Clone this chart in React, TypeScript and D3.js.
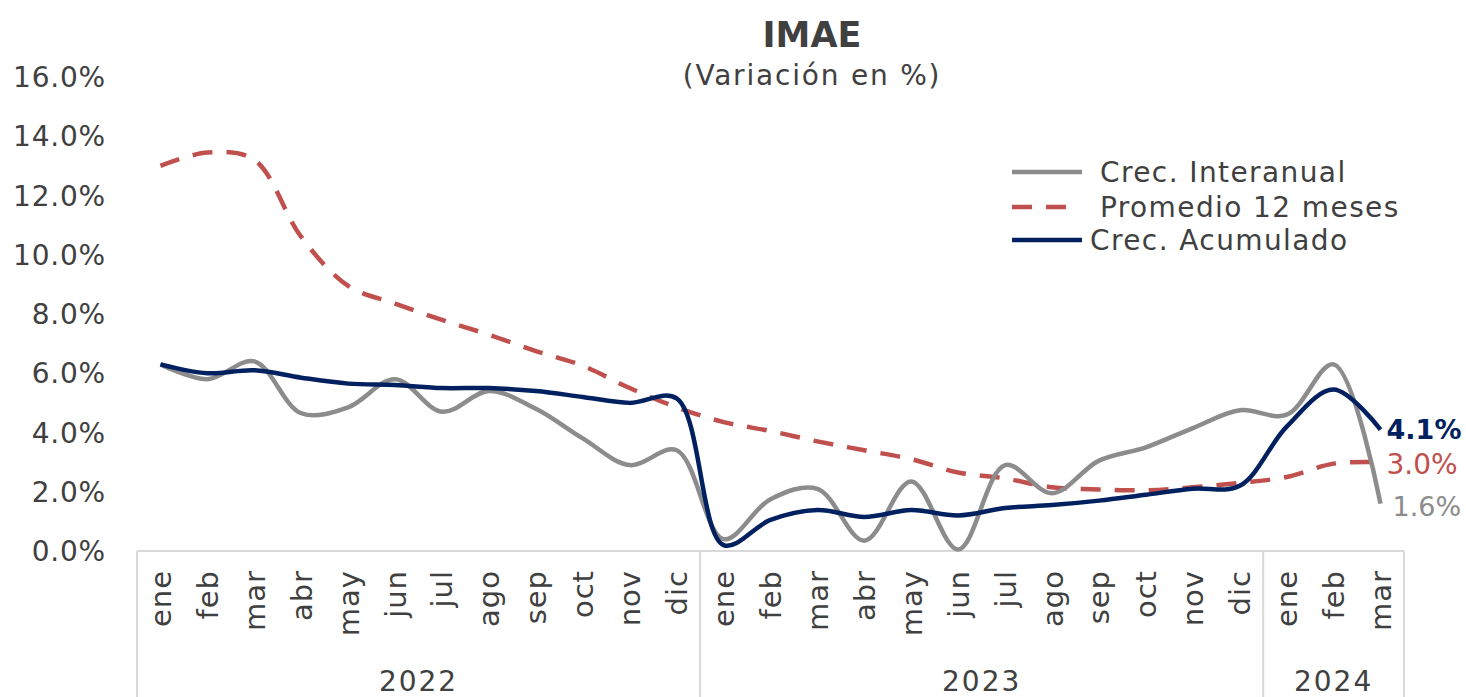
import React from 'react'
import * as d3 from 'd3'

const months = ['ene','feb','mar','abr','may','jun','jul','ago','sep','oct','nov','dic',
  'ene','feb','mar','abr','may','jun','jul','ago','sep','oct','nov','dic',
  'ene','feb','mar']
const years = [
  { label: '2022', count: 12 },
  { label: '2023', count: 12 },
  { label: '2024', count: 3 },
]
const interanual = [6.3,5.8,6.4,4.65,4.85,5.8,4.7,5.4,4.8,3.8,2.9,3.4,
  0.4,1.75,2.1,0.35,2.35,0.05,2.9,1.95,3.05,3.5,4.15,4.75,
  4.6,6.3,1.6]
const promedio = [13.0,13.45,13.2,10.6,8.95,8.35,7.8,7.3,6.75,6.25,5.5,4.85,
  4.35,4.05,3.7,3.4,3.1,2.65,2.45,2.15,2.08,2.05,2.15,2.3,
  2.5,2.95,3.0]
const acumulado = [6.3,6.0,6.1,5.85,5.65,5.6,5.5,5.5,5.4,5.2,5.0,5.15,
  0.2,1.05,1.38,1.15,1.38,1.2,1.45,1.55,1.7,1.9,2.1,2.2,
  4.2,5.45,4.1]
const yTicks = [0,2,4,6,8,10,12,14,16]

const W = 1466
const H = 697
const FONT = '"DejaVu Sans", sans-serif'
const TXT = '#404040'
const GREY = '#8c8c8c'
const RED = '#c0504d'
const BLUE = '#002060'
const AXIS = '#d9d9d9'

export default function App() {
  const x = d3.scaleBand<number>().domain(months.map((_, i) => i)).range([137, 1404])
  const bw = x.bandwidth()
  const cx = (i: number) => (x(i) ?? 0) + bw / 2
  const y = d3.scaleLinear().domain([0, 16]).range([551, 77])

  const line = d3.line<number>()
    .x((_, i) => cx(i))
    .y(d => y(d))
    .curve(d3.curveCatmullRom.alpha(0.5))

  // group boundaries
  let acc = 0
  const groups = years.map(g => {
    const start = acc
    acc += g.count
    return { ...g, x0: x(start) ?? 0, x1: (x(acc - 1) ?? 0) + bw }
  })
  const last = months.length - 1

  return (
    <svg width={W} height={H} style={{ position: 'absolute', left: 0, top: 0, background: '#fff' }}
      fontFamily={FONT}>
      {/* title */}
      <text x={812} y={47} textAnchor="middle" fontSize={35} fontWeight="bold" fill={TXT}>IMAE</text>
      <text x={812} y={85} textAnchor="middle" fontSize={28} letterSpacing={1.8} fill={TXT}>(Variación en %)</text>

      {/* y axis labels */}
      {yTicks.map(t => (
        <text key={t} x={106} y={y(t)} dy="0.36em" textAnchor="end" fontSize={28} letterSpacing={0.8} fill={TXT}>
          {t.toFixed(1) + '%'}
        </text>
      ))}

      {/* category axis */}
      <line x1={137} x2={1404} y1={y(0)} y2={y(0)} stroke={AXIS} strokeWidth={2} />
      {groups.map((g, i) => (
        <g key={g.label}>
          {i === 0 && <line x1={g.x0} x2={g.x0} y1={y(0)} y2={H} stroke={AXIS} strokeWidth={2} />}
          <line x1={g.x1} x2={g.x1} y1={y(0)} y2={H} stroke={AXIS} strokeWidth={2} />
          <text x={(g.x0 + g.x1) / 2} y={691} textAnchor="middle" fontSize={28} letterSpacing={2} fill={TXT}>{g.label}</text>
        </g>
      ))}
      {months.map((m, i) => (
        <text key={i} transform={`translate(${cx(i)},570) rotate(-90)`} dy="0.36em"
          textAnchor="end" fontSize={29} letterSpacing={1} fill={TXT}>{m}</text>
      ))}

      {/* series */}
      <path d={line(promedio) ?? ''} fill="none" stroke={RED} strokeWidth={4.5}
        strokeDasharray="20 14" />
      <path d={line(interanual) ?? ''} fill="none" stroke={GREY} strokeWidth={4.5} />
      <path d={line(acumulado) ?? ''} fill="none" stroke={BLUE} strokeWidth={4.5} />

      {/* end labels */}
      <text x={cx(last) + 6} y={y(acumulado[last])} dy="0.36em" fontSize={27} fontWeight="bold" fill={BLUE}>
        {acumulado[last].toFixed(1)}%</text>
      <text x={cx(last) + 6} y={y(promedio[last]) + 2} dy="0.36em" fontSize={28} fill={RED}>
        {promedio[last].toFixed(1)}%</text>
      <text x={cx(last) + 12} y={y(interanual[last]) + 3} dy="0.36em" fontSize={27} fill={GREY}>
        {interanual[last].toFixed(1)}%</text>

      {/* legend */}
      <line x1={1012} x2={1082} y1={172} y2={172} stroke={GREY} strokeWidth={4.5} />
      <text x={1100} y={172} dy="0.36em" fontSize={28} letterSpacing={1.4} fill={TXT}>Crec. Interanual</text>
      <line x1={1012} x2={1068} y1={207} y2={207} stroke={RED} strokeWidth={4.5} strokeDasharray="20 14" />
      <text x={1100} y={207} dy="0.36em" fontSize={28} letterSpacing={1.4} fill={TXT}>Promedio 12 meses</text>
      <line x1={1012} x2={1082} y1={240} y2={240} stroke={BLUE} strokeWidth={4.5} />
      <text x={1090} y={240} dy="0.36em" fontSize={28} letterSpacing={1.4} fill={TXT}>Crec. Acumulado</text>
    </svg>
  )
}
